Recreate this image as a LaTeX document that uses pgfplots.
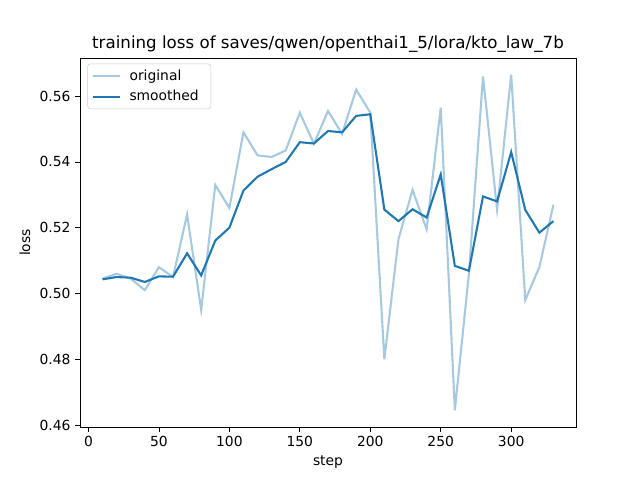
\documentclass[border=0pt]{standalone}
\usepackage{pgfplots}
\pgfplotsset{compat=1.18}
\usepackage{fontspec}
\setmainfont{DejaVu Sans}
\definecolor{mplblue}{HTML}{1F77B4}
\definecolor{lightblue}{HTML}{A5C9E1}
\begin{document}
\begin{tikzpicture}
\useasboundingbox (-60pt,-39.75pt) rectangle (420pt,320.25pt);
\begin{axis}[
  at={(0,0)}, anchor=south west,
  scale only axis, width=372pt, height=276.75pt,
  xmin=-6, xmax=346, ymin=0.4594, ymax=0.5716,
  xtick={0,50,100,150,200,250,300},
  ytick={0.46,0.48,0.50,0.52,0.54,0.56},
  yticklabel style={/pgf/number format/.cd, fixed, fixed zerofill, precision=2},
  /pgf/number format/assume math mode=true,
  tick align=outside, tick pos=left,
  major tick length=3.65pt,
  tick style={black, line width=0.6pt},
  ticklabel style={font=\fontsize{10.4}{12}\selectfont},
  axis line style={line width=0.6pt},
  title={training loss of saves/qwen/openthai1\_5/lora/kto\_law\_7b},
  title style={font=\fontsize{12.5}{14}\selectfont, yshift=-5pt},
  xlabel={step}, ylabel={loss},
  label style={font=\fontsize{10.4}{12}\selectfont},
  xlabel style={yshift=0pt},
  ylabel style={yshift=0pt},
  legend style={font=\fontsize{10.4}{12}\selectfont, draw=black!20, rounded corners=2pt, inner xsep=3pt, inner ysep=2.5pt, at={(0.015,0.985)}, anchor=north west, row sep=2pt,
    nodes={inner xsep=6pt}},
  legend image code/.code={\draw[#1] (0pt,0pt) -- (20.8pt,0pt);},
  legend cell align=left,
]
\addplot[lightblue, line width=1.56pt] coordinates {
(10,0.5045) (20,0.506) (30,0.5045) (40,0.501) (50,0.508) (60,0.505) (70,0.524) (80,0.495) (90,0.533) (100,0.526)
(110,0.549) (120,0.542) (130,0.5415) (140,0.5435) (150,0.555) (160,0.5455) (170,0.5555) (180,0.5485) (190,0.562) (200,0.555)
(210,0.480) (220,0.5165) (230,0.5315) (240,0.5195) (250,0.5565) (260,0.4645) (270,0.506) (280,0.566) (290,0.5255) (300,0.5665)
(310,0.498) (320,0.508) (330,0.527)
};
\addlegendentry{original}
\addplot[mplblue, line width=1.56pt] coordinates {
(10,0.5043) (20,0.505) (30,0.5048) (40,0.5035) (50,0.5052) (60,0.5051) (70,0.5122) (80,0.5055) (90,0.5161) (100,0.5200)
(110,0.5313) (120,0.5355) (130,0.5378) (140,0.5400) (150,0.5460) (160,0.5456) (170,0.5494) (180,0.5490) (190,0.5540) (200,0.5545)
(210,0.5255) (220,0.5220) (230,0.5256) (240,0.5231) (250,0.5362) (260,0.5084) (270,0.5069) (280,0.5295) (290,0.5280) (300,0.5430)
(310,0.5254) (320,0.5185) (330,0.5220)
};
\addlegendentry{smoothed}
\end{axis}
\end{tikzpicture}
\end{document}
